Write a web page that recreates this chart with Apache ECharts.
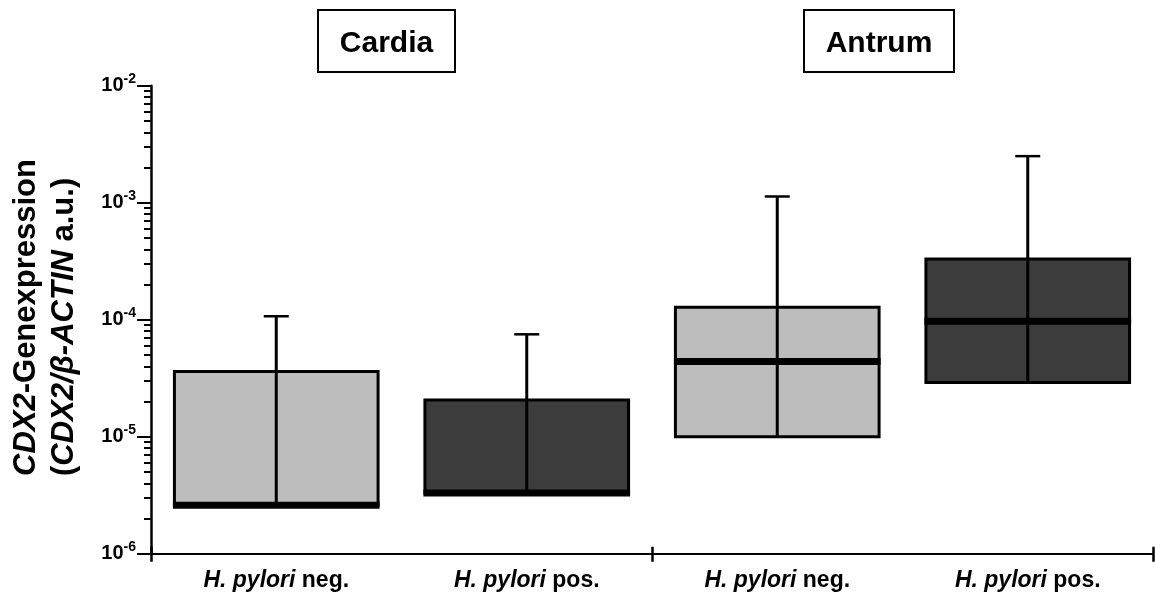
<!DOCTYPE html>
<html>
<head>
<meta charset="utf-8">
<script src="https://cdn.jsdelivr.net/npm/echarts@6/dist/echarts.min.js"></script>
<style>
  html, body { margin: 0; padding: 0; background: #fff; }
  #chart { width: 1155px; height: 595px; }
</style>
</head>
<body>
<div id="chart"></div>
<script>
// Groups and categories along the x axis
const groups = ['Cardia', 'Antrum'];
const categories = ['H. pylori neg.', 'H. pylori pos.', 'H. pylori neg.', 'H. pylori pos.'];

// Box statistics per category (CDX2 / beta-actin, arbitrary units)
const q1 = [2.6e-6, 3.3e-6, 1.0e-5, 2.9e-5];
const median = [2.6e-6, 3.3e-6, 4.4e-5, 9.7e-5];
const q3 = [3.6e-5, 2.06e-5, 1.28e-4, 3.3e-4];
const whiskerHigh = [1.07e-4, 7.5e-5, 1.13e-3, 2.5e-3];

// Log axis range and minor tick positions (2..9 within each decade)
const yMin = 1e-6;
const yMax = 1e-2;
const decades = [1e-6, 1e-5, 1e-4, 1e-3];
const mantissas = [2, 3, 4, 5, 6, 7, 8, 9];

const boxColors = ['#bdbdbd', '#3c3c3c', '#bdbdbd', '#3c3c3c'];
const FONT = '"Liberation Sans", Arial, Helvetica, sans-serif';

const minorTicks = [];
decades.forEach(d => mantissas.forEach(m => minorTicks.push(m * d)));

const boxData = categories.map((c, i) => [i, q1[i], median[i], q3[i], whiskerHigh[i]]);

// Group separators on the x axis: start, between the groups, end (in category units)
const groupEdges = [0, 2, 4];

const chart = echarts.init(document.getElementById('chart'), null, { renderer: 'canvas' });

function renderBox(params, api) {
  const i = api.value(0);
  const lo = api.coord([i, api.value(1)]);
  const mid = api.coord([i, api.value(2)]);
  const hi = api.coord([i, api.value(3)]);
  const top = api.coord([i, api.value(4)]);
  const band = api.size([1, 0])[0];
  const w = band * 0.813;
  const cx = lo[0];
  const x0 = cx - w / 2;
  return {
    type: 'group',
    children: [
      { type: 'rect', shape: { x: x0, y: hi[1], width: w, height: lo[1] - hi[1] },
        style: { fill: boxColors[i], stroke: '#000', lineWidth: 3 } },
      { type: 'line', shape: { x1: cx, y1: lo[1], x2: cx, y2: top[1] },
        style: { stroke: '#000', lineWidth: 3 } },
      { type: 'line', shape: { x1: x0 - 1.5, y1: mid[1], x2: x0 + w + 1.5, y2: mid[1] },
        style: { stroke: '#000', lineWidth: 7 } },
      { type: 'line', shape: { x1: cx - 12.5, y1: top[1], x2: cx + 12.5, y2: top[1] },
        style: { stroke: '#000', lineWidth: 2.5 } }
    ]
  };
}

const groupBoxes = [
  { x: 318, y: 10, w: 137, h: 62 },
  { x: 804, y: 10, w: 150, h: 62 }
];

const graphics = [];
groups.forEach((g, k) => {
  const b = groupBoxes[k];
  graphics.push({
    type: 'rect', z: 10,
    shape: { x: b.x, y: b.y, width: b.w, height: b.h },
    style: { fill: '#fff', stroke: '#000', lineWidth: 2 }
  });
  graphics.push({
    type: 'text', z: 11,
    x: b.x + b.w / 2, y: b.y + b.h / 2 + 3,
    style: {
      text: g, fill: '#000',
      fontFamily: FONT, fontWeight: 'bold', fontSize: 30,
      align: 'center', verticalAlign: 'middle'
    }
  });
});

// Two-line y-axis title, rotated to read bottom-to-top
const titleRich = {
  i: { fontFamily: FONT, fontWeight: 'bold', fontStyle: 'italic', fontSize: 31, lineHeight: 38, fill: '#000', align: 'left' },
  n: { fontFamily: FONT, fontWeight: 'bold', fontSize: 31, lineHeight: 38, fill: '#000', align: 'left' }
};
graphics.push({
  type: 'text', z: 11,
  x: 45, y: 476, rotation: Math.PI / 2,
  style: {
    text: '{i|CDX2}{n|-Genexpression}\n{n|(}{i|CDX2/β-ACTIN}{n| a.u.)}',
    rich: titleRich,
    align: 'left', verticalAlign: 'middle'
  }
});

const edgeAxis = (inside, len) => ({
  type: 'value',
  min: groupEdges[0],
  max: groupEdges[groupEdges.length - 1],
  interval: groupEdges[1] - groupEdges[0],
  position: 'bottom',
  axisLine: { show: false },
  axisTick: { show: true, inside: inside, length: len, lineStyle: { color: '#000', width: 2.5 } },
  axisLabel: { show: false },
  splitLine: { show: false }
});

const option = {
  backgroundColor: '#fff',
  animation: false,
  grid: { left: 151, right: 2, top: 85.7, bottom: 41.3, containLabel: false },
  xAxis: [{
    type: 'category',
    data: categories,
    boundaryGap: true,
    position: 'bottom',
    axisLine: { show: true, lineStyle: { color: '#000', width: 2 } },
    axisTick: { show: false },
    axisLabel: {
      interval: 0, margin: 15, color: '#000',
      formatter: function (v) {
        const k = v.lastIndexOf(' ');
        return '{i|' + v.slice(0, k) + '}{n|' + v.slice(k) + '}';
      },
      rich: {
        i: { fontFamily: FONT, fontWeight: 'bold', fontStyle: 'italic', fontSize: 23, color: '#000' },
        n: { fontFamily: FONT, fontWeight: 'bold', fontSize: 23, color: '#000' }
      }
    },
    splitLine: { show: false }
  }, edgeAxis(false, 8), edgeAxis(true, 7)],
  yAxis: [{
    type: 'log',
    logBase: 10,
    min: yMin,
    max: yMax,
    position: 'left',
    axisLine: { show: true, lineStyle: { color: '#000', width: 2.5 } },
    axisTick: { show: true, length: 14, lineStyle: { color: '#000', width: 2 } },
    axisLabel: {
      margin: 15, color: '#000',
      formatter: function (v) {
        const e = Math.round(Math.log10(v));
        return '{b|10}{s|' + e + '}';
      },
      rich: {
        b: { fontFamily: FONT, fontWeight: 'bold', fontSize: 20, lineHeight: 28, color: '#000' },
        s: { fontFamily: FONT, fontWeight: 'bold', fontSize: 14, verticalAlign: 'top', color: '#000' }
      }
    },
    splitLine: { show: false },
    minorTick: { show: false }
  }, {
    type: 'log',
    logBase: 10,
    min: yMin,
    max: yMax,
    position: 'left',
    axisLine: { show: false },
    axisTick: { show: true, length: 7, customValues: minorTicks, lineStyle: { color: '#000', width: 2 } },
    axisLabel: { show: false },
    splitLine: { show: false }
  }],
  series: [{
    type: 'custom',
    xAxisIndex: 0,
    yAxisIndex: 0,
    renderItem: renderBox,
    encode: { x: 0, y: [1, 2, 3, 4] },
    data: boxData,
    clip: false,
    z: 2
  }],
  graphic: graphics
};

chart.setOption(option);
</script>
</body>
</html>
